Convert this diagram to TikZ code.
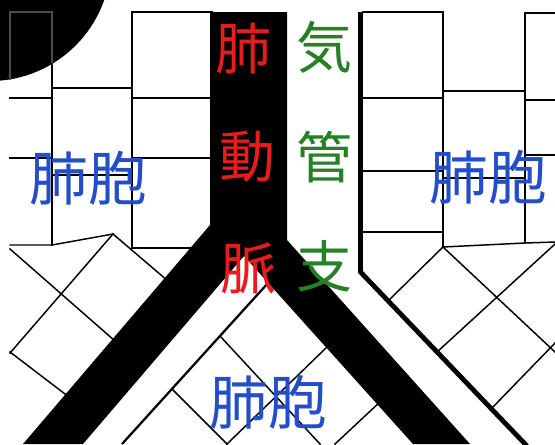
\documentclass[tikz,border=0pt]{standalone}
\usepackage{fontspec}
\newfontfamily\jpfont{Noto Sans CJK JP}
\definecolor{arteryred}{RGB}{232,28,28}
\definecolor{bronchgreen}{RGB}{38,128,38}
\definecolor{alveolblue}{RGB}{36,78,200}
\begin{document}
\begin{tikzpicture}[x=0.75pt,y=-0.75pt,
  cell/.style={line width=1.1pt,line cap=rect},
  faint/.style={line width=1.1pt,black!70},
  wallthick/.style={line width=3.6pt,line join=miter},
  wallthin/.style={line width=1.7pt},
  vessel/.style={fill=black},
  glyph/.style={inner sep=0pt,font=\jpfont\fontsize{42pt}{42pt}\selectfont},
  redtext/.style={glyph,text=arteryred},
  greentext/.style={glyph,text=bronchgreen},
  bluetext/.style={glyph,text=alveolblue,font=\jpfont\fontsize{44pt}{44pt}\selectfont}]
\useasboundingbox (0,0) rectangle (555,444);
\clip (0,0) rectangle (555,444);
\fill[white] (0,0) rectangle (555,444);

% alveolar cells, upper left
\draw[cell] (52,12) -- (52,245);
\draw[cell] (132,12) -- (132,248);
\draw[cell] (132,12) -- (212,12);
\draw[cell] (10,98) -- (52,98);
\draw[cell] (52,88) -- (132,88);
\draw[cell] (132,98) -- (212,98);
\draw[cell] (10,158) -- (52,158);
\draw[cell] (52,175) -- (132,175);
\draw[cell] (132,158) -- (212,158);
\draw[cell] (10,245) -- (52,245) -- (113,234);
\draw[cell] (132,248) -- (195,248);
% alveolar cells, lower left lattice
\draw[cell] (10,249) -- (115,341);
\draw[cell] (113,234) -- (10,353);
\draw[cell] (113,234) -- (168,281);
\draw[cell] (10,352) -- (69,397);

% alveolar cells, upper right
\draw[cell] (363,12) -- (443,12);
\draw[cell] (443,12) -- (443,247);
\draw[cell] (525,13) -- (555,13);
\draw[cell] (525,13) -- (525,243);
\draw[cell] (363,98) -- (443,98);
\draw[cell] (443,91) -- (525,91);
\draw[cell] (525,100) -- (555,100);
\draw[cell] (363,171) -- (443,171);
\draw[cell] (443,178) -- (525,178);
\draw[cell] (525,155) -- (555,155);
\draw[cell] (363,232) -- (443,232);
\draw[cell] (443,247) -- (525,243) -- (555,242);
% alveolar cells, lower right lattice
\draw[cell] (443,247) -- (388,301);
\draw[cell] (443,247) -- (555,352);
\draw[cell] (555,244) -- (437,352);
\draw[cell] (555,343) -- (491,409);

% alveolar cells between the branches
\draw[cell] (220,336) -- (320,444);
\draw[cell] (328,346) -- (227,444);
\draw[cell] (172,389) -- (227,444);
\draw[cell] (381,401) -- (335,444);

% lung hilum shadow (radius 121 units of 0.75pt)
\fill (-10,-40) circle[radius=90.75pt];
\draw[faint] (10,80) -- (10,12) -- (52,12) -- (52,63);

% pulmonary artery with its two branches
\fill[vessel] (210,12) -- (287,12) -- (287,240) -- (470,444) -- (413,444)
  -- (244,256) -- (83,444) -- (23,444) -- (210,225) -- cycle;

% bronchus walls
\draw[wallthick] (360.5,12) -- (360.5,272) -- (527,446);
\draw[wallthin] (268,283) -- (122,444);

% labels
\node[redtext] (a1) at (243,49) {肺};
\node[redtext] (a2) at (247,157) {動};
\node[redtext] (a3) at (248,268) {脈};
\node[greentext] (b1) at (324,47) {気};
\node[greentext] (b2) at (324,157) {管};
\node[greentext] (b3) at (324,266) {支};
\node[bluetext] (l1) at (88,178) {肺胞};
\node[bluetext] (l2) at (488,177) {肺胞};
\node[bluetext] (l3) at (268,402) {肺胞};
\end{tikzpicture}
\end{document}
